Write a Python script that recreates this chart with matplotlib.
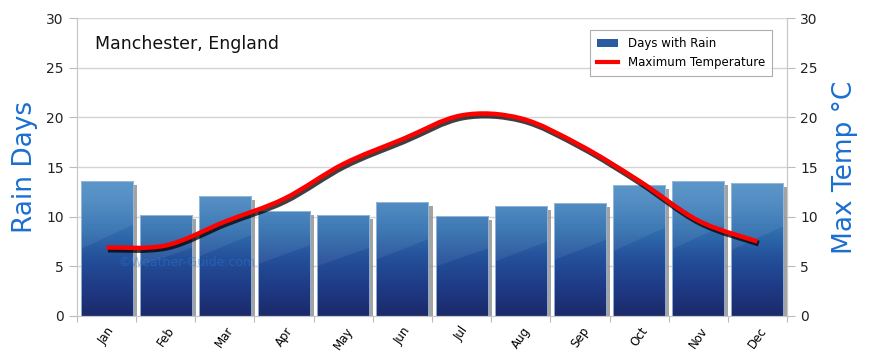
import matplotlib
matplotlib.use("Agg")
import matplotlib.pyplot as plt
import matplotlib.patheffects as pe
from matplotlib.colors import LinearSegmentedColormap
from matplotlib.patches import Rectangle
from matplotlib.path import Path
from matplotlib.patches import PathPatch
from matplotlib.lines import Line2D
import numpy as np

months = ['Jan', 'Feb', 'Mar', 'Apr', 'May', 'Jun',
          'Jul', 'Aug', 'Sep', 'Oct', 'Nov', 'Dec']
rain_days = [13.6, 10.2, 12.1, 10.6, 10.2, 11.5, 10.1, 11.1, 11.4, 13.2, 13.6, 13.4]
max_temp = [6.9, 7.1, 9.5, 11.8, 15.3, 17.8, 20.2, 19.9, 17.2, 13.6, 9.6, 7.5]

blue_txt = '#1a6fd0'
grid_c = '#d4d4d4'

fig = plt.figure(figsize=(8.7, 3.64), dpi=100)
ax = fig.add_axes([0.0885, 0.1319, 0.8161, 0.8186])
ax2 = ax.twinx()

x = np.arange(len(months))
ax.set_xlim(-0.5, 11.5)
ax.set_ylim(0, 30)
ax2.set_ylim(0, 30)

# grid
for v in range(5, 31, 5):
    ax.axhline(v, color=grid_c, lw=1, zorder=0)

cmap = LinearSegmentedColormap.from_list(
    'bars', ['#1b2a6a', '#1f3b86', '#24509a', '#3170b0', '#4886bf', '#5594c8'])
grad = np.linspace(0, 1, 200).reshape(-1, 1)
bw = 0.88
for xi, h in zip(x, rain_days):
    # shadow
    ax.add_patch(Rectangle((xi - bw / 2 + 0.07, -0.3), bw, h - 0.1,
                           color='#8c8c8c', alpha=0.8, zorder=1, lw=0))
    rect = Rectangle((xi - bw / 2, 0), bw, h, facecolor='none',
                     edgecolor='#9fc0e0', lw=0.6, zorder=3)
    ax.add_patch(rect)
    img = ax.imshow(grad[::-1], cmap=cmap, aspect='auto',
                    extent=(xi - bw / 2, xi + bw / 2, 0, 14.5),
                    zorder=2, interpolation='bilinear')
    img.set_clip_path(rect)
    # light diagonal band
    band = ax.fill_between([xi - bw / 2, xi + bw / 2], [h * 0.5, h * 0.68],
                           [h, h], color='white', alpha=0.07, zorder=2.5, lw=0)
    band.set_clip_path(rect)

# smooth temperature line drawn through a bezier path
pts = np.column_stack([x, max_temp]).astype(float)
verts = [tuple(pts[0])]
codes = [Path.MOVETO]
for i in range(len(pts) - 1):
    p0 = pts[i - 1] if i > 0 else pts[i]
    p1 = pts[i]
    p2 = pts[i + 1]
    p3 = pts[i + 2] if i + 2 < len(pts) else pts[i + 1]
    c1 = p1 + (p2 - p0) / 6.0
    c2 = p2 - (p3 - p1) / 6.0
    verts += [tuple(c1), tuple(c2), tuple(p2)]
    codes += [Path.CURVE4] * 3
temp_path = Path(verts, codes)
ax2.add_patch(PathPatch(temp_path, facecolor='none', edgecolor='red', lw=3.2,
                        capstyle='butt', zorder=5,
                        path_effects=[pe.SimpleLineShadow(offset=(1, -1.5), shadow_color='black',
                                                          alpha=0.75, linewidth=4.2),
                                      pe.Normal()]))

ax.text(0.2, 5.4, '\u00a9Weather-Guide.com', color='#2a7ad8', alpha=0.45,
        fontsize=9, va='center', zorder=4)

# axes styling
ax.set_xticks(np.arange(-0.5, 12, 1), minor=False)
ax.set_xticklabels([])
ax.set_xticks(x, minor=True)
ax.set_xticklabels(months, minor=True, rotation=55, fontsize=8.5, ha='center', va='top')
ax.tick_params(axis='x', which='major', length=4, color='#bbbbbb')
ax.tick_params(axis='x', which='minor', length=0, pad=6)
ax.set_yticks(range(0, 31, 5))
ax2.set_yticks(range(0, 31, 5))
ax.tick_params(axis='y', length=6, color='#bbbbbb', labelsize=10, labelcolor='#222222')
ax2.tick_params(axis='y', length=6, color='#bbbbbb', labelsize=10, labelcolor='#222222')
for a in (ax, ax2):
    for s in a.spines.values():
        s.set_color('#c8c8c8')
    a.spines['top'].set_visible(False)

ax.set_ylabel('Rain Days', color=blue_txt, fontsize=19, labelpad=6)
ax2.set_ylabel('Max Temp \u00b0C', color=blue_txt, fontsize=19, labelpad=10)

ax.text(0.025, 0.895, 'Manchester, England', transform=ax.transAxes,
        fontsize=12.5, color='#111111', zorder=6)

handles = [Rectangle((0, 0), 1, 1, facecolor='#2a5aa0', edgecolor='none'),
           Line2D([0], [0], color='red', lw=3)]
leg = ax2.legend(handles, ['Days with Rain', 'Maximum Temperature'],
                 loc='upper right', bbox_to_anchor=(0.987, 0.98), fontsize=8.5,
                 frameon=True, fancybox=False, edgecolor='#999999',
                 handlelength=1.8, handleheight=0.6, borderpad=0.6, labelspacing=0.5)
leg.get_frame().set_linewidth(0.8)
leg.set_zorder(10)

fig.savefig('out.png', dpi=100)
